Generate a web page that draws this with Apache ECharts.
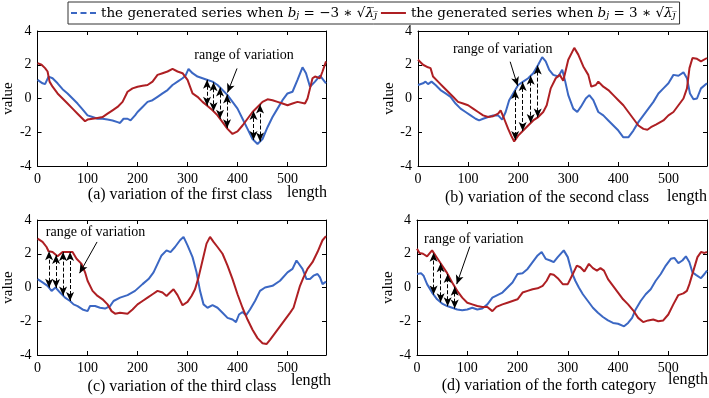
<!DOCTYPE html>
<html><head><meta charset="utf-8">
<script src="https://cdn.jsdelivr.net/npm/echarts@6/dist/echarts.min.js"></script>
<style>html,body{margin:0;padding:0;background:#fff}#c{width:709px;height:398px}</style>
</head><body><div id="c"></div>
<script>
// ---- data ----
const aBlue = [[0,1.1],[5,1.0],[10,0.9],[15,0.85],[22,1.3],[30,1.2],[40,0.9],[50,0.55],[60,0.3],[70,0.0],[80,-0.3],[90,-0.65],[100,-1.0],[110,-1.1],[120,-1.2],[130,-1.2],[140,-1.25],[150,-1.3],[160,-1.4],[165,-1.45],[172,-1.2],[180,-1.2],[186,-1.3],[195,-1.0],[200,-0.8],[210,-0.5],[220,-0.2],[230,-0.1],[240,0.1],[250,0.3],[260,0.5],[270,0.8],[280,1.0],[290,1.2],[296,1.35],[302,1.75],[310,1.5],[320,1.3],[330,1.2],[340,1.1],[350,1.0],[360,0.8],[370,0.5],[380,0.2],[390,-0.2],[400,-0.6],[410,-1.2],[420,-1.8],[430,-2.4],[440,-2.7],[450,-2.4],[460,-1.7],[470,-1.1],[480,-0.6],[490,-0.1],[500,0.3],[510,0.4],[520,1.1],[530,1.85],[537,1.5],[545,0.7],[555,1.0],[565,1.35],[577,0.9]];
const aRed = [[0,2.1],[8,2.0],[15,1.8],[20,1.6],[24,1.0],[30,0.7],[40,0.3],[50,0.0],[60,-0.3],[70,-0.6],[80,-0.9],[90,-1.2],[95,-1.35],[100,-1.25],[110,-1.2],[120,-1.15],[130,-1.1],[140,-0.9],[150,-0.7],[160,-0.5],[170,-0.2],[180,0.4],[190,0.6],[200,0.7],[210,0.75],[220,0.8],[230,1.0],[240,1.4],[250,1.5],[260,1.6],[270,1.75],[280,1.6],[290,1.5],[300,1.1],[310,0.3],[320,0.1],[330,-0.2],[340,-0.45],[350,-0.7],[360,-1.0],[370,-1.4],[380,-1.8],[390,-2.1],[400,-1.95],[410,-1.6],[420,-1.2],[430,-0.8],[440,-0.5],[450,-0.2],[460,-0.05],[470,-0.1],[480,-0.2],[490,-0.3],[500,-0.4],[510,-0.3],[520,-0.2],[535,-0.3],[540,0.0],[545,0.6],[550,1.2],[555,1.3],[565,1.2],[570,1.6],[577,2.2]];
const bBlue = [[0,0.8],[10,0.9],[15,1.0],[20,0.85],[27,1.0],[35,0.8],[45,0.5],[55,0.3],[65,0.1],[75,-0.3],[85,-0.6],[95,-0.8],[105,-1.0],[115,-1.2],[122,-1.3],[130,-1.2],[140,-1.1],[150,-1.0],[160,-1.0],[168,-1.25],[175,-0.8],[182,-0.1],[190,0.3],[200,0.8],[210,1.0],[220,1.2],[230,1.5],[240,2.0],[248,2.45],[255,2.2],[262,1.7],[270,1.4],[280,1.3],[288,1.7],[294,1.0],[300,0.2],[310,-0.6],[318,-0.8],[325,-0.5],[335,0.0],[342,0.2],[350,-0.1],[360,-0.8],[370,-1.0],[380,-1.3],[390,-1.6],[400,-1.9],[410,-2.3],[420,-2.3],[430,-1.9],[440,-1.4],[450,-1.0],[460,-0.6],[470,-0.2],[480,0.3],[490,0.6],[500,0.9],[510,1.4],[520,1.35],[530,1.55],[537,1.2],[543,0.3],[550,-0.05],[557,0.0],[565,0.6],[577,0.9]];
const bRed = [[0,2.3],[10,2.0],[20,1.85],[25,1.8],[30,1.3],[40,1.0],[50,0.7],[60,0.4],[70,0.1],[80,-0.2],[90,-0.3],[100,-0.4],[110,-0.6],[120,-0.8],[130,-1.0],[140,-1.1],[150,-1.05],[160,-0.9],[165,-0.7],[172,-1.2],[180,-1.8],[186,-2.2],[192,-2.55],[200,-2.2],[210,-1.9],[220,-1.6],[230,-1.3],[240,-1.1],[250,-0.8],[257,-0.4],[265,0.6],[275,1.2],[283,1.4],[290,1.05],[300,2.3],[312,3.0],[320,2.6],[330,1.9],[340,1.4],[346,0.7],[355,0.8],[360,1.0],[370,0.7],[380,0.5],[390,0.2],[400,-0.1],[410,-0.4],[420,-0.8],[430,-1.2],[440,-1.6],[450,-1.8],[458,-1.85],[465,-1.7],[475,-1.55],[490,-1.3],[500,-1.0],[510,-0.8],[520,-0.4],[530,0.0],[537,0.6],[542,1.8],[548,2.4],[557,2.35],[565,2.2],[577,2.4]];
const cBlue = [[0,0.5],[10,0.3],[20,0.1],[28,-0.2],[36,0.0],[45,-0.3],[55,-0.6],[65,-0.8],[72,-1.0],[80,-1.1],[90,-1.3],[100,-1.4],[105,-1.1],[115,-1.1],[125,-1.2],[135,-1.25],[145,-1.1],[152,-0.8],[165,-0.6],[180,-0.45],[195,-0.2],[210,0.2],[222,0.5],[232,0.9],[240,1.4],[248,1.9],[258,2.2],[266,2.1],[275,2.4],[285,2.8],[292,3.0],[300,2.5],[310,1.8],[318,0.9],[325,-0.2],[332,-1.0],[340,-1.2],[350,-1.05],[360,-1.2],[370,-1.5],[380,-1.8],[390,-1.9],[397,-2.05],[403,-1.6],[410,-1.45],[417,-1.65],[425,-1.3],[435,-0.8],[445,-0.2],[455,0.0],[470,0.1],[485,0.4],[500,0.9],[510,1.1],[518,1.6],[522,1.7],[530,1.1],[538,0.5],[545,0.5],[552,0.7],[560,0.8],[565,0.6],[570,0.2],[577,0.35]];
const cRed = [[0,2.9],[10,2.7],[18,2.4],[22,2.15],[30,2.1],[40,1.85],[50,2.1],[60,2.1],[70,2.1],[78,1.7],[88,1.4],[95,0.9],[100,0.4],[110,-0.2],[120,-0.5],[130,-0.7],[140,-1.0],[148,-1.4],[155,-1.55],[165,-1.5],[180,-1.55],[190,-1.3],[200,-1.0],[210,-0.8],[220,-0.6],[230,-0.4],[240,-0.2],[250,-0.3],[258,-0.5],[265,-0.3],[272,-0.1],[280,-0.45],[290,-1.05],[300,-0.85],[308,-0.5],[315,-0.1],[322,0.6],[330,1.6],[338,2.6],[345,3.0],[352,2.7],[360,2.4],[370,2.0],[380,1.3],[390,0.5],[400,-0.4],[410,-1.2],[420,-1.9],[430,-2.5],[440,-3.0],[450,-3.3],[458,-3.35],[465,-3.1],[475,-2.7],[485,-2.3],[495,-1.9],[505,-1.5],[512,-1.2],[517,-0.7],[525,0.1],[532,0.6],[540,1.1],[550,1.5],[560,2.1],[570,2.8],[577,3.05]];
const dBlue = [[0,0.8],[8,0.85],[13,0.7],[20,0.2],[30,-0.3],[40,-0.7],[50,-0.95],[60,-1.1],[70,-1.2],[80,-1.3],[90,-1.35],[100,-1.3],[110,-1.2],[120,-1.3],[130,-1.25],[140,-1.0],[150,-0.6],[160,-0.45],[170,-0.3],[180,0.0],[190,0.3],[200,0.8],[210,0.85],[220,1.1],[230,1.5],[240,1.9],[248,2.1],[256,1.7],[265,1.6],[272,1.5],[280,1.8],[292,2.2],[300,1.8],[308,0.9],[315,0.4],[322,0.0],[330,-0.4],[340,-0.8],[350,-1.2],[360,-1.5],[370,-1.75],[380,-1.95],[390,-2.1],[400,-2.15],[412,-2.3],[420,-2.1],[428,-1.8],[435,-1.3],[445,-0.8],[455,-0.4],[465,-0.1],[475,0.4],[485,0.8],[495,1.3],[505,1.7],[512,1.75],[520,1.45],[528,1.6],[535,1.85],[542,1.5],[548,0.9],[555,0.75],[565,0.55],[572,0.8],[577,1.0]];
const dRed = [[0,2.3],[5,2.05],[12,2.0],[20,1.85],[30,2.2],[40,1.75],[50,1.3],[60,0.85],[70,0.3],[80,-0.2],[90,-0.6],[100,-0.9],[110,-1.0],[120,-1.1],[130,-1.15],[140,-1.15],[150,-1.4],[158,-1.15],[170,-1.0],[180,-0.9],[190,-0.8],[200,-0.7],[210,-0.3],[220,-0.2],[230,-0.1],[240,-0.05],[250,0.1],[258,0.4],[265,0.8],[272,0.75],[280,0.55],[290,0.2],[300,0.2],[310,0.8],[318,1.3],[325,1.2],[333,0.95],[342,1.4],[350,1.15],[358,1.0],[365,1.15],[372,1.0],[380,0.5],[390,0.1],[400,-0.3],[410,-0.7],[420,-1.0],[430,-1.35],[440,-1.8],[450,-2.05],[460,-1.95],[470,-1.9],[480,-2.0],[490,-1.95],[500,-1.6],[510,-1.0],[520,-0.45],[530,-0.35],[537,-0.2],[542,0.2],[550,1.0],[558,1.8],[565,2.1],[572,2.05],[577,2.1]];

const xTicks = [0, 100, 200, 300, 400, 500];
const yTicks = [-4, -2, 0, 2, 4];
const captions = ['(a) variation of the first class', '(b) variation of the second class', '(c) variation of the third class', '(d) variation of the forth category'];
const arrowXs = [[339, 352, 365, 379, 432, 445], [194, 209, 225, 239], [23, 37, 51, 65], [33, 47, 61, 75]];
// annotation: [textX, textY, arrowFromX, arrowFromY, arrowToX, arrowToY]
const notes = [[413, 2.53, 399, 1.78, 380, 0.35], [169, 2.9, 184, 2.18, 199, 0.75], [116, 3.26, 119, 2.7, 84, 0.85], [113, 2.88, 105, 2.42, 79, 0.2]];
const noteText = 'range of variation';
const seriesNames = ['neg', 'pos'];
const coefLabels = ['−3', '3'];

// ---- layout ----
const FONT = 'Liberation Serif';
const MATH = 'DejaVu Serif';
const BLUE = '#3b67c3', RED = '#ae1f23';
const grids = [
  {left: 37, top: 31, width: 289, height: 135},
  {left: 418, top: 31, width: 289, height: 135},
  {left: 37, top: 220, width: 289, height: 135},
  {left: 417, top: 220, width: 290, height: 135}
];
const pairs = [[aBlue, aRed], [bBlue, bRed], [cBlue, cRed], [dBlue, dRed]];

function interp(arr, x) {
  for (let i = 1; i < arr.length; i++) {
    if (arr[i][0] >= x) {
      const [x0, y0] = arr[i - 1], [x1, y1] = arr[i];
      return y0 + (y1 - y0) * (x - x0) / (x1 - x0);
    }
  }
  return arr[arr.length - 1][1];
}

const xAxis = [], yAxis = [], series = [];
const tick = {inside: true, length: 4, lineStyle: {color: '#000', width: 1}};
const line = {show: true, onZero: false, lineStyle: {color: '#000', width: 1}};
grids.forEach((g, i) => {
  xAxis.push({type: 'value', gridIndex: i, min: xTicks[0], max: 577, interval: xTicks[1] - xTicks[0],
    axisLine: line, axisTick: tick, splitLine: {show: false},
    axisLabel: {color: '#000', fontFamily: FONT, fontSize: 14, margin: 6, showMaxLabel: false}});
  xAxis.push({type: 'value', gridIndex: i, position: 'top', min: xTicks[0], max: 577, interval: 100,
    axisLine: line, axisTick: tick, splitLine: {show: false}, axisLabel: {show: false}});
  yAxis.push({type: 'value', gridIndex: i, min: yTicks[0], max: yTicks[yTicks.length - 1], interval: yTicks[1] - yTicks[0],
    name: 'value', nameLocation: 'middle', nameGap: 17, nameRotate: 90,
    nameTextStyle: {color: '#000', fontFamily: FONT, fontSize: 15},
    axisLine: line, axisTick: tick, splitLine: {show: false},
    axisLabel: {color: '#000', fontFamily: FONT, fontSize: 14, margin: 6}});
  yAxis.push({type: 'value', gridIndex: i, position: 'right', min: -4, max: 4, interval: 2,
    axisLine: line, axisTick: tick, splitLine: {show: false}, axisLabel: {show: false}});
  const [bl, rd] = pairs[i];
  series.push({name: seriesNames[0], type: 'line', xAxisIndex: 2 * i, yAxisIndex: 2 * i, data: bl,
    symbol: 'none', lineStyle: {color: BLUE, width: 2}, itemStyle: {color: BLUE}, silent: true, z: 2});
  const ml = arrowXs[i].map(x => [
    {coord: [x, interp(bl, x)], symbol: 'arrow'},
    {coord: [x, interp(rd, x)], symbol: 'arrow'}
  ]);
  const n = notes[i];
  ml.push([{coord: [n[2], n[3]], symbol: 'none', lineStyle: {type: 'solid'}}, {coord: [n[4], n[5]], symbol: 'arrow'}]);
  series.push({name: seriesNames[1], type: 'line', xAxisIndex: 2 * i, yAxisIndex: 2 * i, data: rd,
    symbol: 'none', lineStyle: {color: RED, width: 2}, itemStyle: {color: RED}, silent: true, z: 2,
    markLine: {silent: true, symbolSize: [6, 9], animation: false, label: {show: false},
      lineStyle: {color: '#000', type: 'dashed', width: 1}, data: ml},
    markPoint: {silent: true, animation: false, data: [{coord: [n[0], n[1]], symbol: 'rect', symbolSize: 1,
      itemStyle: {color: 'rgba(0,0,0,0)'},
      label: {show: true, position: 'inside', formatter: noteText, color: '#000', fontFamily: FONT, fontSize: 14}}]}
  });
});

const capPos = [[180, 195], [547, 198], [182, 387], [549, 386]];
const lenPos = [[287, 193], [667, 197], [291, 381], [668, 380]];
const graphic = [];
captions.forEach((c, i) => {
  graphic.push({type: 'text', x: capPos[i][0], y: capPos[i][1], style: {text: c, fill: '#000',
    font: '16px "Liberation Serif"', align: 'center', verticalAlign: 'middle'}});
  graphic.push({type: 'text', x: lenPos[i][0], y: lenPos[i][1], style: {text: 'length', fill: '#000',
    font: '16px "Liberation Serif"', align: 'left', verticalAlign: 'middle'}});
});

const rich = {
  t: {fontFamily: MATH, fontSize: 13.5, color: '#000'},
  it: {fontFamily: MATH, fontSize: 13.5, fontStyle: 'italic', color: '#000'},
  sb: {fontFamily: MATH, fontSize: 9.5, fontStyle: 'italic', color: '#000', padding: [6, 0, 0, 0]},
  ov: {fontFamily: MATH, fontSize: 13.5, fontStyle: 'italic', color: '#000'}
};
const chart = echarts.init(document.getElementById('c'), null, {renderer: 'canvas'});
chart.setOption({
  animation: false,
  backgroundColor: '#fff',
  grid: grids,
  xAxis, yAxis, series, graphic,
  legend: {
    left: 68, top: 2, padding: [4, 4, 3, 3], itemGap: 4, itemWidth: 25, itemHeight: 12,
    borderColor: '#333', borderWidth: 1, selectedMode: false,
    data: [
      {name: seriesNames[0], icon: 'path://M0,0h6v2h-6zM9.5,0h6v2h-6zM19,0h6v2h-6z', itemStyle: {color: BLUE}},
      {name: seriesNames[1], icon: 'path://M0,0h25v2h-25z', itemStyle: {color: RED}}
    ],
    formatter: function (name) {
      const s = coefLabels[seriesNames.indexOf(name)];
      return '{t|the generated series when }{it|b}{sb|j}{t| = ' + s + ' ∗ √}{ov|λ\u0305}{sb|j\u0305}';
    },
    textStyle: {rich}
  }
});
</script></body></html>
